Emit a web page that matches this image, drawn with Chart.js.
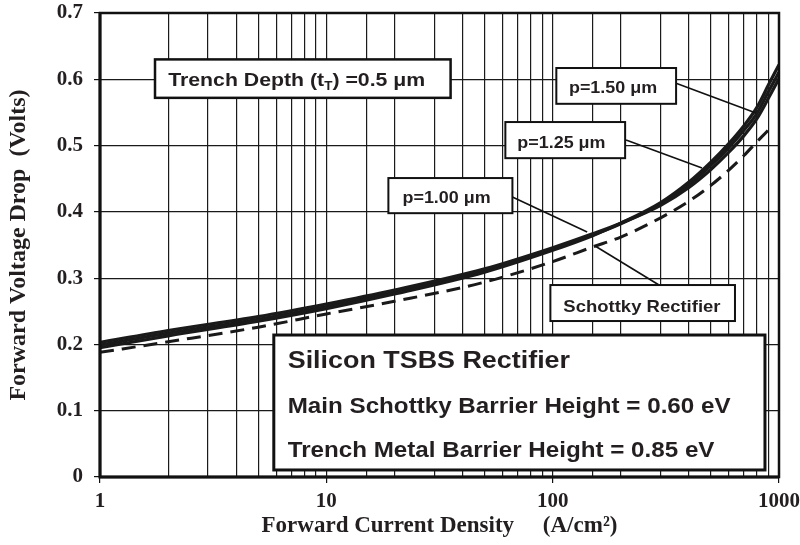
<!DOCTYPE html>
<html lang="en">
<head>
<meta charset="UTF-8">
<title>TSBS Rectifier forward drop</title>
<style>
    html, body { margin: 0; padding: 0; background: #fff; }
    canvas { display: block; }
</style>
</head>
<body>
<canvas id="myChart" width="800" height="545"></canvas>

<script src="https://cdn.jsdelivr.net/npm/chart.js@4.4.1/dist/chart.umd.min.js"></script>
<script>
    // forward current density (A/cm2) and forward drop (V)
    const currents = [1, 2, 5, 10, 20, 50, 100, 150, 200, 300, 400, 500, 600, 700, 800, 900, 1000]
    const drop100 = [0.203, 0.221, 0.242, 0.261, 0.282, 0.314, 0.346, 0.367, 0.383, 0.410, 0.437, 0.464, 0.490, 0.515, 0.541, 0.572, 0.601]
    const drop125 = [0.199, 0.217, 0.238, 0.257, 0.279, 0.311, 0.344, 0.365, 0.382, 0.412, 0.441, 0.470, 0.497, 0.523, 0.549, 0.582, 0.611]
    const drop150 = [0.195, 0.213, 0.235, 0.254, 0.276, 0.309, 0.342, 0.364, 0.383, 0.414, 0.445, 0.475, 0.503, 0.530, 0.558, 0.592, 0.622]

    const schottkyCurrents = [1, 2, 5, 10, 20, 50, 100, 150, 200, 300, 400, 500, 600, 700, 800, 900, 920]
    const schottkyDrop = [0.188, 0.204, 0.226, 0.246, 0.265, 0.294, 0.325, 0.347, 0.362, 0.391, 0.416, 0.440, 0.463, 0.485, 0.506, 0.524, 0.528]

    const xMajor = [1, 10, 100, 1000]
    const yMin = 0, yMax = 0.7, yStep = 0.1

    // label boxes, in data units (x = A/cm2, y = V)
    const labelBoxes = [
        { x: [1.75, 35.4], y: [0.572, 0.630], border: 2.5, tx: 2.0, ty: 0.590, size: 19,
          parts: [['Trench Depth (t'], ['T', 'sub'], [') =0.5 \u03bcm']] },
        { x: [103.8, 351], y: [0.563, 0.617], border: 2, tx: 118, ty: 0.579, size: 16, parts: [['p=1.50 \u03bcm']] },
        { x: [61.8, 209], y: [0.481, 0.5355], border: 2, tx: 69.8, ty: 0.4963, size: 16, parts: [['p=1.25 \u03bcm']] },
        { x: [18.8, 66.4], y: [0.398, 0.451], border: 2, tx: 21.7, ty: 0.4133, size: 16, parts: [['p=1.00 \u03bcm']] },
        { x: [97.7, 639], y: [0.2353, 0.2896], border: 2, tx: 111.5, ty: 0.2489, size: 16.5, parts: [['Schottky Rectifier']] },
    ]
    const leaders = [
        [[351, 0.594], [791, 0.549]],
        [[211, 0.5084], [457, 0.4661]],
        [[66.4, 0.4224], [142, 0.3696]],
        [[295, 0.2896], [154, 0.3485]],
    ]
    const infoBox = { x: [5.86, 867], y: [0.0106, 0.2142], border: 3, tx: 6.75,
        lines: [['Silicon TSBS Rectifier', 24, 0.1644],
                ['Main Schottky Barrier Height = 0.60 eV', 21.6, 0.0965],
                ['Trench Metal Barrier Height = 0.85 eV', 21.6, 0.0302]] }

    const ink = '#231f20'
    const sans = '"Liberation Sans", Arial, sans-serif'
    const serif = '"Liberation Serif", "Times New Roman", serif'
    const stretch = 1.12

    function isMajor(v) {
        const l = Math.log10(v)
        return Math.abs(l - Math.round(l)) < 1e-9
    }

    function pts(xs, ys) {
        return xs.map((x, i) => ({ x: x, y: ys[i] }))
    }

    function drawParts(ctx, parts, x, y, size) {
        ctx.save()
        ctx.translate(x, y)
        ctx.scale(stretch, 1)
        let cx = 0
        parts.forEach(p => {
            const sub = p[1] === 'sub'
            ctx.font = 'bold ' + (sub ? Math.round(size * 0.65) : size) + 'px ' + sans
            ctx.fillText(p[0], cx, sub ? size * 0.22 : 0)
            cx += ctx.measureText(p[0]).width
        })
        ctx.restore()
    }

    function boxRect(ctx, xs, ys, b) {
        const l = xs.getPixelForValue(b.x[0]), r = xs.getPixelForValue(b.x[1])
        const t = ys.getPixelForValue(b.y[1]), btm = ys.getPixelForValue(b.y[0])
        ctx.fillStyle = '#fff'
        ctx.fillRect(l, t, r - l, btm - t)
        ctx.lineWidth = b.border
        ctx.strokeStyle = '#111'
        ctx.strokeRect(l, t, r - l, btm - t)
    }

    const decorations = {
        id: 'decorations',
        beforeDraw(chart) {
            const ctx = chart.ctx
            ctx.save()
            ctx.fillStyle = '#fff'
            ctx.fillRect(0, 0, chart.width, chart.height)
            ctx.restore()
        },
        afterDatasetsDraw(chart) {
            const ctx = chart.ctx
            const xs = chart.scales.x, ys = chart.scales.y
            const a = chart.chartArea
            ctx.save()

            // frame
            ctx.strokeStyle = '#111'
            ctx.lineWidth = 2.5
            ctx.strokeRect(a.left, a.top, a.right - a.left, a.bottom - a.top)
            ctx.lineWidth = 3
            ctx.beginPath()
            ctx.moveTo(a.left, a.top)
            ctx.lineTo(a.left, a.bottom)
            ctx.lineTo(a.right, a.bottom)
            ctx.stroke()

            // leader lines
            ctx.lineWidth = 1.6
            leaders.forEach(l => {
                ctx.beginPath()
                ctx.moveTo(xs.getPixelForValue(l[0][0]), ys.getPixelForValue(l[0][1]))
                ctx.lineTo(xs.getPixelForValue(l[1][0]), ys.getPixelForValue(l[1][1]))
                ctx.stroke()
            })

            // boxes
            ctx.textBaseline = 'alphabetic'
            labelBoxes.forEach(b => {
                boxRect(ctx, xs, ys, b)
                ctx.fillStyle = ink
                drawParts(ctx, b.parts, xs.getPixelForValue(b.tx), ys.getPixelForValue(b.ty), b.size)
            })

            boxRect(ctx, xs, ys, infoBox)
            ctx.fillStyle = ink
            infoBox.lines.forEach(l => {
                drawParts(ctx, [[l[0]]], xs.getPixelForValue(infoBox.tx), ys.getPixelForValue(l[2]), l[1])
            })
            ctx.restore()
        }
    }

    const solid = (data) => ({
        data: data,
        borderColor: '#1a1a1a',
        borderWidth: 3.2,
        pointRadius: 0,
        fill: false,
        cubicInterpolationMode: 'monotone',
    })

    const myChart = new Chart('myChart', {
        type: 'line',
        data: {
            datasets: [
                solid(pts(currents, drop100)),
                solid(pts(currents, drop125)),
                solid(pts(currents, drop150)),
                {
                    data: pts(schottkyCurrents, schottkyDrop),
                    borderColor: '#1a1a1a',
                    borderWidth: 3,
                    borderDash: [14, 8],
                    pointRadius: 0,
                    fill: false,
                    cubicInterpolationMode: 'monotone',
                },
            ]
        },
        options: {
            responsive: false,
            animation: false,
            devicePixelRatio: 1,
            layout: { padding: { top: 13, right: 20, left: 0, bottom: 0 } },
            plugins: {
                legend: { display: false },
                tooltip: { enabled: false },
            },
            scales: {
                x: {
                    type: 'logarithmic',
                    min: xMajor[0],
                    max: xMajor[xMajor.length - 1],
                    border: { display: false },
                    grid: {
                        color: '#1a1a1a',
                        lineWidth: 1.2,
                        drawTicks: true,
                        tickLength: 6,
                        tickColor: (c) => (c.tick && isMajor(c.tick.value)) ? '#111' : 'rgba(0,0,0,0)',
                    },
                    ticks: {
                        autoSkip: false,
                        maxRotation: 0,
                        padding: 0,
                        color: ink,
                        font: { family: serif, size: 21, weight: 'bold', lineHeight: 1.75 },
                        callback: (v) => isMajor(v) ? String(Math.round(v)) : '',
                    },
                    title: {
                        display: true,
                        text: 'Forward Current Density     (A/cm\u00b2)',
                        color: ink,
                        font: { family: serif, size: 23, weight: 'bold' },
                        padding: { top: 0, bottom: 5 },
                    },
                    afterFit: (scale) => { scale.height = 68 },
                },
                y: {
                    min: yMin,
                    max: yMax,
                    border: { display: false },
                    grid: {
                        color: '#1a1a1a',
                        lineWidth: 1.2,
                        tickLength: 6,
                        tickColor: '#111',
                    },
                    ticks: {
                        stepSize: yStep,
                        padding: 11,
                        color: ink,
                        font: { family: serif, size: 21, weight: 'bold', lineHeight: 0.1 },
                        callback: (v) => v === 0 ? '0' : v.toFixed(1),
                    },
                    title: {
                        display: true,
                        text: 'Forward Voltage Drop  (Volts)',
                        color: ink,
                        font: { family: serif, size: 24, weight: 'bold' },
                        padding: { top: 4, bottom: 0 },
                    },
                    afterFit: (scale) => { scale.width = 100 },
                },
            },
        },
        plugins: [decorations],
    })
</script>
</body>
</html>
